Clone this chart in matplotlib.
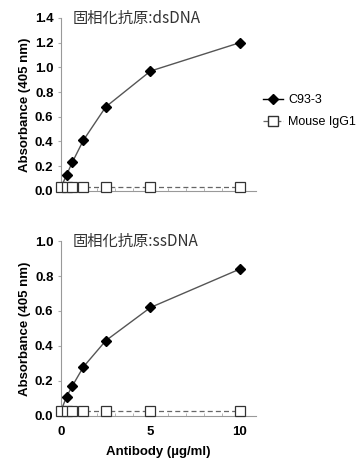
import matplotlib
matplotlib.use("Agg")
from matplotlib import pyplot as plt
from matplotlib.lines import Line2D

# concentracoes de anticorpo (ug/ml)
conc = [0, 0.3125, 0.625, 1.25, 2.5, 5, 10]

# absorvancia - antigeno dsDNA
ds_c93 = [0.03, 0.13, 0.23, 0.41, 0.68, 0.97, 1.20]
ds_igg = [0.03, 0.03, 0.03, 0.03, 0.03, 0.03, 0.03]

# absorvancia - antigeno ssDNA
ss_c93 = [0.03, 0.11, 0.17, 0.28, 0.43, 0.62, 0.84]
ss_igg = [0.025, 0.025, 0.025, 0.025, 0.025, 0.025, 0.025]

titulos = ['固相化抗原:dsDNA', '固相化抗原:ssDNA']
ylims = [1.4, 1.0]
yticks = [[0.0, 0.2, 0.4, 0.6, 0.8, 1.0, 1.2, 1.4], [0.0, 0.2, 0.4, 0.6, 0.8, 1.0]]

plt.rcParams['font.family'] = ['Liberation Sans', 'Noto Sans CJK JP', 'DejaVu Sans']

fig = plt.figure(figsize=(3.57, 4.61), dpi=100)
ax1 = fig.add_axes([0.171, 0.586, 0.546, 0.375])
ax2 = fig.add_axes([0.171, 0.098, 0.546, 0.379])

dados = [(ax1, ds_c93, ds_igg), (ax2, ss_c93, ss_igg)]
for i, (ax, c93, igg) in enumerate(dados):
    ax.plot(conc, c93, '-', color='#555555', lw=1, zorder=2, clip_on=False)
    ax.plot(conc[1:], c93[1:], 'D', color='black', ms=5.5, zorder=3, clip_on=False)
    ax.plot(conc, igg, '--', color='#666666', lw=0.9, dashes=(4, 2.5), zorder=4, clip_on=False)
    ax.plot(conc, igg, 's', mfc='white', mec='#333333', mew=0.9, ms=7, zorder=5, clip_on=False)
    ax.set_xlim(0, 10.9)
    ax.set_ylim(0, ylims[i])
    ax.set_yticks(yticks[i])
    ax.set_yticklabels(['%.1f' % v for v in yticks[i]], fontsize=9.5, fontweight='bold')
    ax.set_xticks([0, 5, 10])
    ax.set_xticks(range(0, 11), minor=True)
    ax.tick_params(axis='x', direction='in', length=2.5, color='#aaaaaa', which='both', pad=7)
    ax.tick_params(axis='y', direction='out', length=2, color='#aaaaaa')
    for s in ['top', 'right']:
        ax.spines[s].set_visible(False)
    for s in ['left', 'bottom']:
        ax.spines[s].set_color('#999999')
        ax.spines[s].set_linewidth(0.8)
    ax.set_ylabel('Absorbance (405 nm)', fontsize=9.5, fontweight='bold', labelpad=3)
    ax.text(0.65, ylims[i], titulos[i], fontsize=11, va='center', ha='left',
            family=['Noto Sans CJK JP', 'DejaVu Sans'], color='#333333')

ax1.set_xticklabels([])
ax2.set_xticklabels(['0', '5', '10'], fontsize=9.5, fontweight='bold')
ax2.set_xlabel('Antibody (\u00b5g/ml)', fontsize=9.5, fontweight='bold', labelpad=6)

handles = [Line2D([], [], color='black', lw=1, marker='D', ms=5, mfc='black'),
           Line2D([], [], color='#666666', lw=0.9, ls='--', marker='s', ms=6.5, mfc='white', mec='#333333')]
fig.legend(handles, ['C93-3', 'Mouse IgG1'], loc='upper left', bbox_to_anchor=(0.705, 0.82),
           frameon=False, fontsize=9, handlelength=1.6, handletextpad=0.4, labelspacing=0.8)

fig.savefig('out.png', dpi=100)
